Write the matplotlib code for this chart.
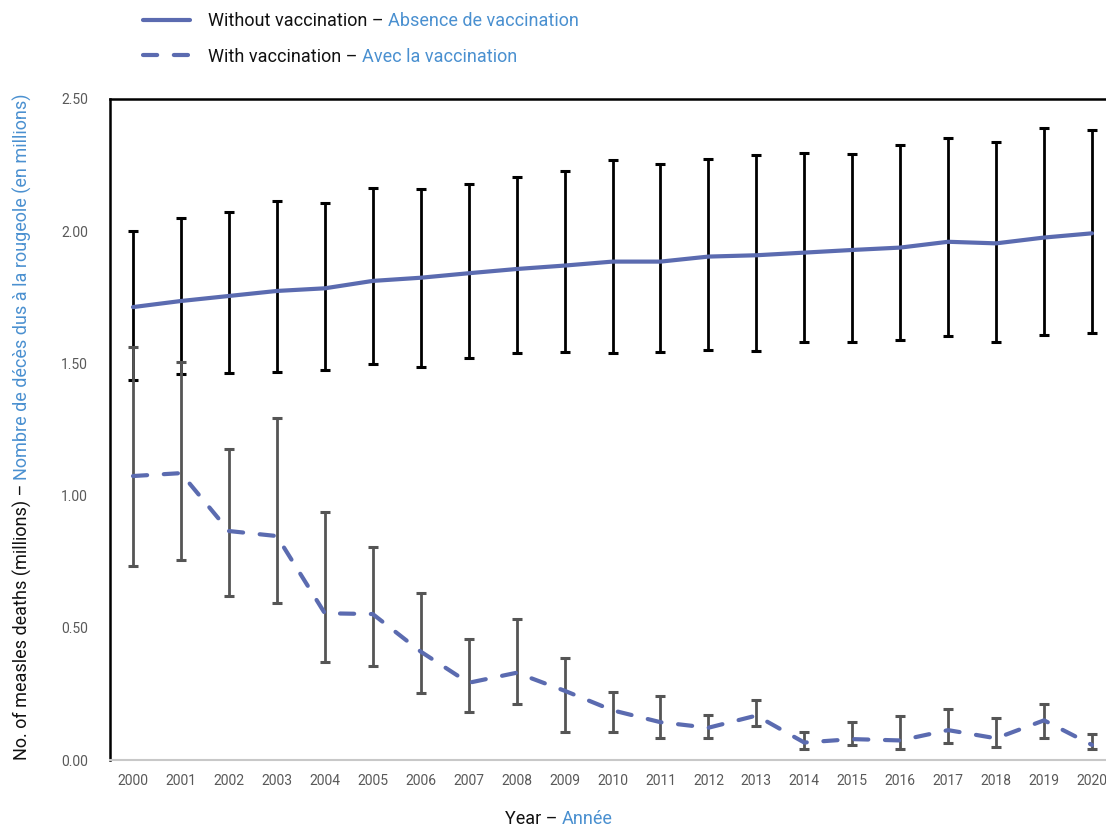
import matplotlib
matplotlib.use("Agg")
import matplotlib.pyplot as plt
from matplotlib.lines import Line2D
import numpy as np

plt.rcParams['font.family'] = ['Roboto', 'DejaVu Sans']

years = [str(y) for y in range(2000, 2021)]

without_vacc = [1.713, 1.736, 1.755, 1.774, 1.784, 1.812, 1.824, 1.841, 1.857, 1.870,
                1.885, 1.885, 1.904, 1.909, 1.919, 1.929, 1.938, 1.960, 1.954, 1.976, 1.992]
without_low = [1.437, 1.460, 1.464, 1.468, 1.475, 1.496, 1.488, 1.519, 1.540, 1.544,
               1.538, 1.542, 1.551, 1.548, 1.580, 1.581, 1.589, 1.604, 1.582, 1.607, 1.614]
without_high = [2.001, 2.050, 2.073, 2.114, 2.108, 2.162, 2.158, 2.180, 2.206, 2.229,
                2.269, 2.254, 2.272, 2.287, 2.294, 2.293, 2.325, 2.354, 2.339, 2.389, 2.383]

with_vacc = [1.074, 1.085, 0.866, 0.847, 0.555, 0.552, 0.410, 0.292, 0.330, 0.262,
             0.188, 0.143, 0.122, 0.168, 0.066, 0.079, 0.074, 0.113, 0.082, 0.150, 0.057]
with_low = [0.734, 0.756, 0.620, 0.594, 0.370, 0.357, 0.252, 0.182, 0.211, 0.105,
            0.105, 0.082, 0.083, 0.128, 0.040, 0.057, 0.042, 0.063, 0.050, 0.084, 0.042]
with_high = [1.562, 1.505, 1.176, 1.293, 0.937, 0.804, 0.630, 0.457, 0.532, 0.386,
             0.256, 0.241, 0.171, 0.227, 0.105, 0.144, 0.168, 0.194, 0.160, 0.212, 0.097]

yticks = [0.0, 0.5, 1.0, 1.5, 2.0, 2.5]

LINE_C = '#5b6bb0'
BLUE_T = '#4a90d0'
GRAY_T = '#595959'
FS = 13

W, H = 1106, 827
fig = plt.figure(figsize=(W/100, H/100), dpi=100)
ax = fig.add_axes([110/W, 1-760/H, 1-110/W, (760-99)/H])

x = np.arange(len(years))
wv = np.array(without_vacc); wl = np.array(without_low); wh = np.array(without_high)
v = np.array(with_vacc); vl = np.array(with_low); vh = np.array(with_high)

ax.errorbar(x, wv, yerr=[wv-wl, wh-wv], fmt='none', ecolor='#000000',
            elinewidth=2.0, capsize=3.6, capthick=2.2, zorder=2)
ax.errorbar(x, v, yerr=[v-vl, vh-v], fmt='none', ecolor='#555555',
            elinewidth=2.0, capsize=3.6, capthick=2.2, zorder=3)

ax.plot(x, wv, color=LINE_C, lw=3.0, solid_capstyle='round', zorder=4)
ax.plot(x, v, color=LINE_C, lw=3.0, dashes=(3.4, 4.0),
        dash_capstyle='round', zorder=4)

ax.set_xlim((110-133)/47.95, 20 + (1106-1092)/47.95)
ax.set_ylim(0, 2.5)
ax.set_yticks(yticks)
ax.set_yticklabels([f'{t:.2f}' for t in yticks])
ax.set_xticks(x)
ax.set_xticklabels(years)
ax.tick_params(axis='both', length=0, colors=GRAY_T, labelsize=10)
ax.tick_params(axis='y', pad=16)
ax.tick_params(axis='x', pad=10)

for s in ['left', 'top']:
    ax.spines[s].set_color('#000000')
    ax.spines[s].set_linewidth(1.8)
ax.spines['right'].set_visible(False)
ax.spines['bottom'].set_color('#c8c8c8')
ax.spines['bottom'].set_linewidth(1.5)

# Legend
handles = [Line2D([], [], color=LINE_C, lw=3.0, solid_capstyle='round'),
           Line2D([], [], color=LINE_C, lw=3.0, dashes=(3.4, 4.0), dash_capstyle='round')]
leg = fig.legend(handles, ['Without vaccination \u2013', 'With vaccination \u2013'],
                 loc='center left', bbox_to_anchor=(143/W, 1-39/H),
                 frameon=False, fontsize=FS, handlelength=2.6, handletextpad=1.0,
                 labelspacing=0.95, borderpad=0, borderaxespad=0)
for t in leg.get_texts():
    t.set_color('#111111')

# Y label (black part)
yl = fig.text(22/W, 1-760/H, 'No. of measles deaths (millions) \u2013', rotation=90,
              ha='center', va='bottom', fontsize=FS, color='#111111')
# X label (black part)
xl = fig.text(505/W, 1-828/H, 'Year \u2013', ha='left', va='bottom',
              fontsize=FS, color='#111111')

fig.canvas.draw()
r = fig.canvas.get_renderer()
gap = 4

for t, blue in zip(leg.get_texts(), ['Absence de vaccination', 'Avec la vaccination']):
    bb = t.get_window_extent(r)
    fig.text((bb.x1 + gap)/W, bb.y0/H, blue, ha='left', va='bottom',
             fontsize=FS, color=BLUE_T)

bb = yl.get_window_extent(r)
fig.text((bb.x0 + bb.x1)/2/W, (bb.y1 + gap)/H,
         'Nombre de d\u00e9c\u00e8s dus \u00e0 la rougeole (en millions)',
         rotation=90, ha='center', va='bottom', fontsize=FS, color=BLUE_T)

bb = xl.get_window_extent(r)
fig.text((bb.x1 + gap)/W, bb.y0/H, 'Ann\u00e9e', ha='left', va='bottom',
         fontsize=FS, color=BLUE_T)

fig.savefig('out.png', dpi=100)
